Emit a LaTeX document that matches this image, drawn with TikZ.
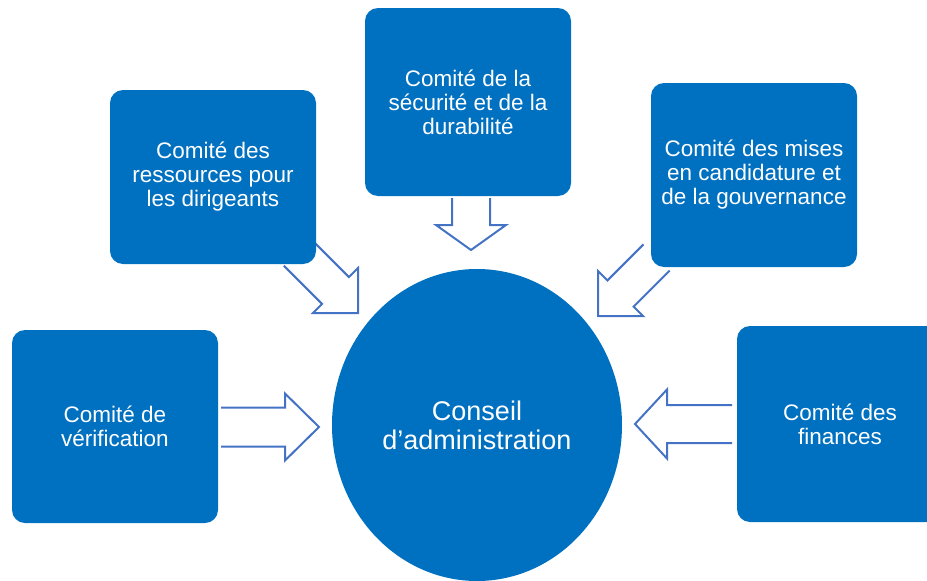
\documentclass[tikz,border=0pt]{standalone}
\usepackage{fontspec}
\setmainfont{Liberation Sans}
\usetikzlibrary{shapes.geometric,backgrounds}
\definecolor{boxblue}{HTML}{0070C0}
\definecolor{arrowblue}{HTML}{4472C4}
\tikzset{
  committee/.style={rectangle, rounded corners=13pt, fill=boxblue, text=white, align=center,
    font=\fontsize{22.5}{24}\selectfont, minimum width=206pt, inner sep=0pt},
  board/.style={ellipse, fill=boxblue, text=white, align=center,
    font=\fontsize{27}{29}\selectfont, minimum width=290pt, minimum height=312pt, inner sep=0pt},
  blockarrow/.style={draw=arrowblue, line width=2pt, line join=miter},
}
% #1 tip, #2 angle, #3 head length, #4 head half-width, #5 shaft half-width, #6 shaft length
\newcommand{\barrow}[6]{%
  \draw[blockarrow, shift={#1}, rotate=#2]
    (-#3-#6,#5) -- (-#3,#5) -- (-#3,#4) -- (0,0) -- (-#3,-#4) -- (-#3,-#5) -- (-#3-#6,-#5);}
\begin{document}
\begin{tikzpicture}[x=1pt,y=-1pt]
  \useasboundingbox (0,0) rectangle (927,581);
  \clip (0,0) rectangle (927,581);
  \node[committee, minimum height=193pt] (verif) at (115,426.5) {Comité de\\vérification};
  \node[committee, minimum height=174pt] (ress) at (213,177) {Comité des\\ressources pour\\les dirigeants};
  \node[committee, minimum height=188pt] (secu) at (468,102) {Comité de la\\sécurité et de la\\durabilité};
  \node[committee, minimum height=184pt] (mises) at (754,175) {Comité des mises\\en candidature et\\de la gouvernance};
  \node[committee, minimum height=196pt] (fin) at (840,424) {Comité des\\finances};
  \node[board] (ca) at (477,425) {Conseil\\d’administration};
  \begin{pgfonlayer}{background}
    \barrow{(319,427)}{0}{34}{33.5}{19.5}{64}
    \barrow{(635,424)}{180}{32}{34.5}{19}{65}
    \barrow{(471,250)}{-90}{25}{35}{19}{27}
    \barrow{(358,313)}{-45}{31.8}{31.8}{19}{54}
    \barrow{(598,316)}{-135}{31.8}{31.8}{18.5}{51}
  \end{pgfonlayer}
\end{tikzpicture}
\end{document}
